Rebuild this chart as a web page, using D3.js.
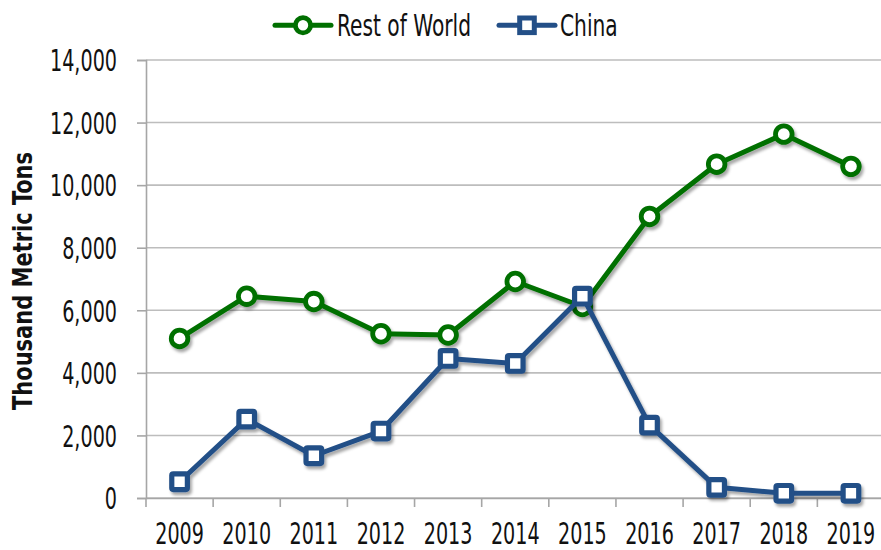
<!DOCTYPE html>
<html><head><meta charset="utf-8">
<script src="https://cdn.jsdelivr.net/npm/d3@7"></script>
<style>
html,body{margin:0;padding:0;background:#fff;}
text{font-family:"DejaVu Sans Condensed","DejaVu Sans",sans-serif;}
</style></head>
<body><svg id="c" width="881" height="550"></svg>
<script>
const years = ["2009","2010","2011","2012","2013","2014","2015","2016","2017","2018","2019"];
const restOfWorld = [5100, 6450, 6280, 5250, 5210, 6920, 6120, 9000, 10670, 11630, 10600];
const china = [520, 2520, 1350, 2140, 4460, 4300, 6450, 2330, 340, 150, 150];
const yTicks = [0, 2000, 4000, 6000, 8000, 10000, 12000, 14000];
const seriesNames = ["Rest of World", "China"];
const colors = ["#006f00", "#234f87"];

const svg = d3.select("#c");
const pLeft = 146, pRight = 884.5, pTop = 60, pBottom = 498;
const x = d3.scaleBand().domain(years).range([pLeft, pRight]).padding(0);
const y = d3.scaleLinear().domain([0, 14000]).range([pBottom, pTop]);
const FS = 30;

// condense text horizontally: ratio found from a reference sample string
function condense(sel, ratio) {
  sel.each(function() {
    const w = this.getComputedTextLength();
    d3.select(this).attr("textLength", w * ratio).attr("lengthAdjust", "spacingAndGlyphs");
  });
}
function ratioFor(str, target, size, weight) {
  const t = svg.append("text").attr("font-size", size).attr("font-weight", weight || "normal").text(str);
  const w = t.node().getComputedTextLength();
  t.remove();
  return target / w;
}
const kTick = ratioFor("14,000", 67, FS);
const kLeg = ratioFor("Rest of World", 134, FS);
const kTitle = ratioFor("Thousand Metric Tons", 258, 27, "bold");

const defs = svg.append("defs");
const f = defs.append("filter").attr("id","sh").attr("x","-20%").attr("y","-20%").attr("width","140%").attr("height","140%");
f.append("feDropShadow").attr("dx",2).attr("dy",3).attr("stdDeviation",1.8).attr("flood-color","#000").attr("flood-opacity",0.35);

// gridlines
svg.append("g").selectAll("line").data(yTicks).join("line")
  .attr("x1", pLeft).attr("x2", pRight).attr("y1", d=>y(d)).attr("y2", d=>y(d))
  .attr("stroke", "#bdbdbd").attr("stroke-width", 1.6);

// y axis
const yAxis = svg.append("g").attr("transform", `translate(${pLeft},0)`)
  .call(d3.axisLeft(y).tickValues(yTicks).tickFormat(d3.format(",")).tickSize(9).tickPadding(20));
yAxis.select(".domain").attr("stroke","#a6a6a6").attr("stroke-width",1.6);
yAxis.selectAll(".tick line").attr("stroke","#a6a6a6").attr("stroke-width",1.6);
yAxis.selectAll("text").attr("font-size", FS).attr("fill","#111").attr("dy","0.36em")
  .style("font-family",'"DejaVu Sans Condensed","DejaVu Sans",sans-serif').call(condense, kTick);

// x axis
const xAxis = svg.append("g").attr("transform", `translate(0,${pBottom})`)
  .call(d3.axisBottom(x).tickSize(0).tickPadding(25));
xAxis.select(".domain").attr("stroke","#a6a6a6").attr("stroke-width",1.6);
xAxis.selectAll("text").attr("font-size", FS).attr("fill","#111")
  .style("font-family",'"DejaVu Sans Condensed","DejaVu Sans",sans-serif')
  .attr("transform", `scale(${kTick},1)`);
// category boundary ticks
const bounds = years.map(d => x(d)).concat([pRight]);
svg.append("g").selectAll("line").data(bounds).join("line")
  .attr("x1", d=>d).attr("x2", d=>d).attr("y1", pBottom).attr("y2", pBottom+9)
  .attr("stroke","#a6a6a6").attr("stroke-width",1.6);

// axis title
svg.append("text").attr("transform", `translate(32,281) rotate(-90)`)
  .attr("text-anchor","middle").attr("font-size", 27).attr("font-weight","bold").attr("fill","#111")
  .text("Thousand Metric Tons").call(condense, kTitle);

const cx = d => x(d) + x.bandwidth()/2;
const line = d3.line().x(d=>cx(d.year)).y(d=>y(d.v));

const series = [restOfWorld, china].map((vals, i) => ({
  name: seriesNames[i], color: colors[i], pts: years.map((yr, j) => ({year: yr, v: vals[j]}))
}));

series.forEach((s, i) => {
  const g = svg.append("g").attr("filter","url(#sh)");
  g.append("path").datum(s.pts).attr("d", line).attr("fill","none")
    .attr("stroke", s.color).attr("stroke-width", 5).attr("stroke-linejoin","round");
  if (i === 0) {
    g.selectAll("circle").data(s.pts).join("circle")
      .attr("cx", d=>cx(d.year)).attr("cy", d=>y(d.v)).attr("r", 8.3)
      .attr("fill","#fff").attr("stroke", s.color).attr("stroke-width", 4.8);
  } else {
    g.selectAll("rect").data(s.pts).join("rect")
      .attr("x", d=>cx(d.year)-7.8).attr("y", d=>y(d.v)-7.8).attr("width",15.6).attr("height",15.6)
      .attr("rx",1.5)
      .attr("fill","#fff").attr("stroke", s.color).attr("stroke-width", 5.2);
  }
});

// legend
const leg = [{x:275, tx:337}, {x:499, tx:560}];
series.forEach((s, i) => {
  const g = svg.append("g");
  const ly = 25.3;
  g.append("line").attr("x1", leg[i].x).attr("x2", leg[i].x+56).attr("y1", ly).attr("y2", ly)
    .attr("stroke", s.color).attr("stroke-width", 5).attr("stroke-linecap","round");
  const mx = leg[i].x + 28;
  if (i === 0) {
    g.append("circle").attr("cx", mx).attr("cy", ly).attr("r", 7.6)
      .attr("fill","#fff").attr("stroke", s.color).attr("stroke-width", 4.8);
  } else {
    g.append("rect").attr("x", mx-7.3).attr("y", ly-7.3).attr("width",14.6).attr("height",14.6)
      .attr("fill","#fff").attr("stroke", s.color).attr("stroke-width", 5);
  }
  g.append("text").attr("x", leg[i].tx).attr("y", ly).attr("dy","0.36em")
    .attr("font-size", FS).attr("fill","#111").text(s.name).call(condense, kLeg);
});
</script></body></html>
